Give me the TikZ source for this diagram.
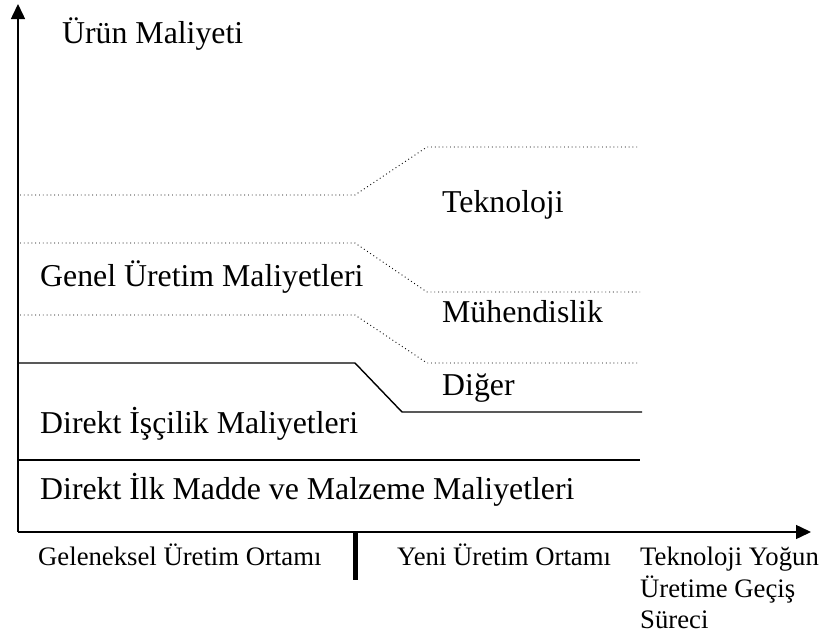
\documentclass[tikz,border=0pt]{standalone}
\usepackage{fontspec}
\setmainfont{Liberation Serif}
\usetikzlibrary{arrows.meta}
\begin{document}
\begin{tikzpicture}[x=1pt,y=-1pt,
  axis/.style={line width=1.5pt,-{Triangle[length=15pt,width=14pt]}},
  level/.style={line width=1.4pt},
  share/.style={line width=0.9pt,dash pattern=on 0.9pt off 2.9pt},
  big/.style={anchor=base west,inner sep=0pt,font=\fontsize{31.8}{38}\selectfont},
  small/.style={anchor=base west,inner sep=0pt,font=\fontsize{26.7}{32}\selectfont},
  divider/.style={line width=5pt}]
\useasboundingbox (0,0) rectangle (825,637);

% axes
\coordinate (O) at (18,532);
\coordinate (ytip) at (18,4);
\coordinate (xtip) at (811,532);
\draw[axis] (O) -- (ytip);
\draw[axis] (O) -- (xtip);

% cost layer boundaries
\draw[share] (20,195) -- (355,195) -- (427,147) -- (640,147);
\draw[share] (20,243) -- (355,243) -- (427,292) -- (640,292);
\draw[share] (20,315) -- (355,315) -- (427,363) -- (640,363);
\draw[level] (18,363) -- (355,363) -- (402,412) -- (642,412);
\draw[level] (18,460) -- (640,460);

% labels
\node[big] (yl) at (62,43) {Ürün Maliyeti};
\node[big] (tek) at (442,212) {Teknoloji};
\node[big] (gum) at (40,286) {Genel Üretim Maliyetleri};
\node[big] (muh) at (442,322) {Mühendislik};
\node[big] (dig) at (442,395) {Diğer};
\node[big] (dim) at (40,433) {Direkt İşçilik Maliyetleri};
\node[big] (dmm) at (40,499) {Direkt İlk Madde ve Malzeme Maliyetleri};

% time axis
\coordinate (b1) at (355,532);
\coordinate (b2) at (355,580);
\draw[divider] (b1) -- (b2);
\node[small] (geo) at (38,565) {Geleneksel Üretim Ortamı};
\node[small] (yuo) at (397,565) {Yeni Üretim Ortamı};
\node[small] (tyu1) at (640,565) {Teknoloji Yoğun};
\node[small] (tyu2) at (640,597) {Üretime Geçiş};
\node[small] (tyu3) at (640,628) {Süreci};
\end{tikzpicture}
\end{document}
